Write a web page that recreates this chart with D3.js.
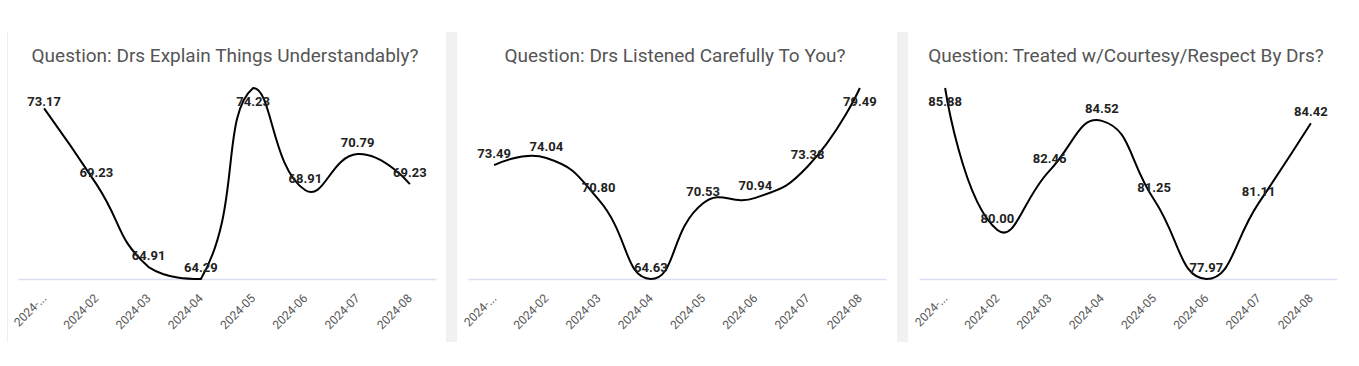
<!DOCTYPE html>
<html>
<head>
<meta charset="utf-8">
<script src="https://cdn.jsdelivr.net/npm/d3@7"></script>
<style>
  body { margin: 0; background: #fff; }
  svg { display: block; }
  .title { font-family: Roboto, "Noto Sans", sans-serif; font-size: 19px; fill: #555; }
  .value-label { font-family: Roboto, sans-serif; font-size: 13px; font-weight: bold; fill: #222; }
  .x-axis text { font-family: Roboto, sans-serif; font-size: 12px; fill: #555; }
  .x-axis path { stroke: #dadef3; stroke-width: 1.5; }
</style>
</head>
<body>
<div id="chart"></div>
<script>
const months = ['2024-01', '2024-02', '2024-03', '2024-04', '2024-05', '2024-06', '2024-07', '2024-08'];
const tickLabels = ['2024-...', '2024-02', '2024-03', '2024-04', '2024-05', '2024-06', '2024-07', '2024-08'];

const titles = [
  'Question: Drs Explain Things Understandably?',
  'Question: Drs Listened Carefully To You?',
  'Question: Treated w/Courtesy/Respect By Drs?'
];

const explainValues = [73.17, 69.23, 64.91, 64.29, 74.23, 68.91, 70.79, 69.23];
const listenedValues = [73.49, 74.04, 70.80, 64.63, 70.53, 70.94, 73.38, 79.49];
const courtesyValues = [85.88, 80.00, 82.46, 84.52, 81.25, 77.97, 81.11, 84.42];

(() => {
  const width = 1359;
  const height = 366;
  const panelLefts = [7, 457, 908];
  const panelWidth = 440;
  const panelTop = 32;
  const panelBottom = 342;
  const plotTop = 88;
  const plotBottom = 279;
  const inset = 11;

  const series = [explainValues, listenedValues, courtesyValues];

  // smooth line like the echarts one: bezier control points kept inside the points' box
  function curveSmooth(context) {
    let pts;
    return {
      areaStart() {}, areaEnd() {},
      lineStart() { pts = []; },
      point(x, y) { pts.push([+x, +y]); },
      lineEnd() {
        const smooth = 0.5;
        const lo = [d3.min(pts, p => p[0]), d3.min(pts, p => p[1])];
        const hi = [d3.max(pts, p => p[0]), d3.max(pts, p => p[1])];
        const clamp = c => [Math.max(lo[0], Math.min(hi[0], c[0])), Math.max(lo[1], Math.min(hi[1], c[1]))];
        let cp0 = pts[0].slice();
        context.moveTo(pts[0][0], pts[0][1]);
        for (let i = 1; i < pts.length; i++) {
          const p = pts[i], prev = pts[i - 1], next = pts[i + 1];
          let cp1, ratio = 0.5, v = [0, 0];
          if (!next) {
            cp1 = p.slice();
          } else {
            v = [next[0] - prev[0], next[1] - prev[1]];
            const l0 = Math.hypot(p[0] - prev[0], p[1] - prev[1]);
            const l1 = Math.hypot(next[0] - p[0], next[1] - p[1]);
            ratio = l1 / (l0 + l1);
            cp1 = [p[0] - v[0] * smooth * (1 - ratio), p[1] - v[1] * smooth * (1 - ratio)];
          }
          cp0 = clamp(cp0);
          cp1 = clamp(cp1);
          context.bezierCurveTo(cp0[0], cp0[1], cp1[0], cp1[1], p[0], p[1]);
          cp0 = [p[0] + v[0] * smooth * ratio, p[1] + v[1] * smooth * ratio];
        }
      }
    };
  }

  const svg = d3.select("#chart")
    .append("svg")
    .attr("width", width)
    .attr("height", height);

  // grey gutters between the cards
  svg.append("line")
    .attr("x1", 7.5).attr("x2", 7.5)
    .attr("y1", panelTop).attr("y2", panelBottom)
    .attr("stroke", "#eeeeee");
  [446, 897].forEach(x => {
    svg.append("rect")
      .attr("x", x).attr("y", panelTop)
      .attr("width", 11).attr("height", panelBottom - panelTop)
      .attr("fill", "#f1f1f1");
  });

  series.forEach((values, k) => {
    const x0 = panelLefts[k];
    const g = svg.append("g");

    const x = d3.scaleBand()
      .domain(months)
      .range([x0 + inset, x0 + panelWidth - inset]);

    const y = d3.scaleLinear()
      .domain(d3.extent(values))
      .range([plotBottom, plotTop]);

    g.append("text")
      .attr("class", "title")
      .attr("x", x0 + panelWidth / 2 - 2)
      .attr("y", 62)
      .attr("text-anchor", "middle")
      .text(titles[k]);

    const axis = g.append("g")
      .attr("class", "x-axis")
      .attr("transform", `translate(0, ${plotBottom})`)
      .call(d3.axisBottom(x).tickSize(0).tickFormat((d, i) => tickLabels[i]));

    axis.selectAll(".tick text")
      .attr("x", 0).attr("y", 0).attr("dy", null)
      .attr("text-anchor", "end")
      .attr("transform", "translate(3, 20) rotate(-45)");

    const line = d3.line()
      .x((d, i) => x(months[i]) + x.bandwidth() / 2)
      .y(d => y(d))
      .curve(curveSmooth);

    g.append("path")
      .datum(values)
      .attr("d", line)
      .attr("fill", "none")
      .attr("stroke", "#000")
      .attr("stroke-width", 2);

    g.selectAll(".value-label")
      .data(values)
      .enter()
      .append("text")
      .attr("class", "value-label")
      .attr("x", (d, i) => x(months[i]) + x.bandwidth() / 2)
      .attr("y", d => Math.max(y(d) - 12, 101))
      .attr("dy", "0.35em")
      .attr("text-anchor", "middle")
      .text(d => d.toFixed(2));
  });
})();
</script>
</body>
</html>
